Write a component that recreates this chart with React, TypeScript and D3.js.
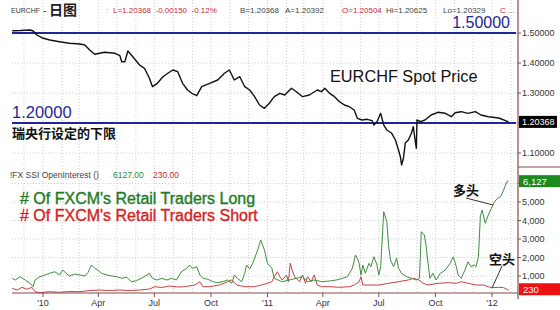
import React from 'react';
import * as d3 from 'd3';

type Pt = [string, number];

// EUR/CHF daily close (sampled)
const priceSeries: Pt[] = [
  ['2009-11-12', 1.5077], ['2009-11-25', 1.5083], ['2009-12-11', 1.51], ['2009-12-16', 1.5067],
  ['2009-12-22', 1.4933], ['2009-12-30', 1.4843], ['2010-01-12', 1.4767], ['2010-01-28', 1.471],
  ['2010-02-13', 1.4657], ['2010-03-02', 1.4633], ['2010-03-10', 1.46], ['2010-03-18', 1.4433],
  ['2010-03-26', 1.429], ['2010-04-03', 1.4323], ['2010-04-11', 1.4357], ['2010-04-28', 1.4323],
  ['2010-05-06', 1.4243], ['2010-05-09', 1.4043], ['2010-05-14', 1.4043], ['2010-05-19', 1.44],
  ['2010-05-27', 1.421], ['2010-06-07', 1.3933], ['2010-06-15', 1.3823], ['2010-06-23', 1.349],
  ['2010-06-28', 1.321], ['2010-07-06', 1.3323], ['2010-07-15', 1.3543], ['2010-07-23', 1.3657],
  ['2010-07-31', 1.3767], ['2010-08-08', 1.371], ['2010-08-16', 1.3323], ['2010-08-24', 1.31],
  ['2010-08-31', 1.299], ['2010-09-08', 1.291], ['2010-09-16', 1.321], ['2010-09-29', 1.3323],
  ['2010-10-12', 1.3433], ['2010-10-23', 1.3657], ['2010-10-31', 1.3767], ['2010-11-08', 1.3433],
  ['2010-11-17', 1.3543], ['2010-11-25', 1.321], ['2010-12-03', 1.31], ['2010-12-11', 1.2877],
  ['2010-12-19', 1.26], ['2010-12-27', 1.249], ['2011-01-04', 1.2657], ['2011-01-12', 1.2877],
  ['2011-01-21', 1.299], ['2011-01-29', 1.2933], ['2011-02-09', 1.3157], ['2011-02-17', 1.3043],
  ['2011-02-27', 1.2877], ['2011-03-10', 1.2933], ['2011-03-23', 1.31], ['2011-03-30', 1.3043],
  ['2011-04-04', 1.3157], ['2011-04-12', 1.299], ['2011-04-20', 1.2877], ['2011-04-28', 1.271],
  ['2011-05-06', 1.26], ['2011-05-14', 1.2543], ['2011-05-22', 1.2433], ['2011-05-27', 1.2157],
  ['2011-06-04', 1.21], ['2011-06-12', 1.2123], ['2011-06-20', 1.2077], ['2011-06-23', 1.1933],
  ['2011-06-28', 1.2043], ['2011-07-04', 1.2323], ['2011-07-09', 1.1933], ['2011-07-14', 1.1767],
  ['2011-07-22', 1.1657], ['2011-07-28', 1.1433], ['2011-08-02', 1.11], ['2011-08-05', 1.0877],
  ['2011-08-07', 1.06], ['2011-08-10', 1.0823], ['2011-08-13', 1.1333], ['2011-08-18', 1.1433],
  ['2011-08-23', 1.1657], ['2011-08-26', 1.1877], ['2011-08-29', 1.1433], ['2011-08-31', 1.1157],
  ['2011-09-01', 1.21], ['2011-09-07', 1.2043], ['2011-09-14', 1.21], ['2011-09-24', 1.2267],
  ['2011-10-05', 1.2357], ['2011-10-17', 1.2323], ['2011-10-27', 1.221], ['2011-11-02', 1.2343],
  ['2011-11-12', 1.2377], ['2011-11-23', 1.2323], ['2011-12-05', 1.2377], ['2011-12-14', 1.2267],
  ['2011-12-26', 1.221], ['2012-01-12', 1.2167], ['2012-01-28', 1.20368],
];

// FXCM SSI open interest: number of retail traders long
const longSeries: Pt[] = [
  ['2009-11-12', 876], ['2009-11-17', 784], ['2009-11-25', 962], ['2009-12-03', 784],
  ['2009-12-11', 605], ['2009-12-16', 422], ['2009-12-19', 784], ['2009-12-27', 962],
  ['2010-01-04', 1054], ['2010-01-12', 1146], ['2010-01-20', 1232], ['2010-01-28', 1054],
  ['2010-02-02', 1324], ['2010-02-09', 1108], ['2010-02-13', 1000], ['2010-02-22', 1108],
  ['2010-03-02', 1054], ['2010-03-10', 1000], ['2010-03-15', 1178], ['2010-03-21', 1594],
  ['2010-03-26', 1416], ['2010-03-31', 1324], ['2010-04-06', 1146], ['2010-04-15', 1054],
  ['2010-04-23', 1000], ['2010-05-01', 962], ['2010-05-09', 876], ['2010-05-17', 930],
  ['2010-05-25', 692], ['2010-06-02', 746], ['2010-06-10', 876], ['2010-06-19', 1054],
  ['2010-06-23', 1146], ['2010-06-28', 876], ['2010-07-05', 784], ['2010-07-13', 876],
  ['2010-07-21', 784], ['2010-07-29', 876], ['2010-08-06', 784], ['2010-08-14', 1232],
  ['2010-08-23', 1416], ['2010-08-27', 1594], ['2010-09-01', 1416], ['2010-09-08', 1503],
  ['2010-09-13', 1054], ['2010-09-18', 876], ['2010-09-26', 822], ['2010-10-04', 692],
  ['2010-10-12', 638], ['2010-10-20', 692], ['2010-10-28', 784], ['2010-11-04', 605],
  ['2010-11-08', 1054], ['2010-11-13', 876], ['2010-11-20', 692], ['2010-11-25', 1146],
  ['2010-11-28', 1594], ['2010-12-03', 1380], ['2010-12-08', 1686], ['2010-12-16', 2405],
  ['2010-12-21', 2946], ['2010-12-27', 2405], ['2011-01-01', 1686], ['2011-01-08', 1416],
  ['2011-01-12', 876], ['2011-01-24', 692], ['2011-02-06', 784], ['2011-02-17', 876],
  ['2011-02-27', 962], ['2011-03-07', 692], ['2011-03-18', 784], ['2011-03-30', 692],
  ['2011-04-12', 730], ['2011-04-23', 784], ['2011-05-03', 876], ['2011-05-11', 962],
  ['2011-05-19', 1416], ['2011-05-24', 2135], ['2011-05-27', 1957], ['2011-05-30', 1686],
  ['2011-06-02', 1054], ['2011-06-05', 1594], ['2011-06-09', 1146], ['2011-06-15', 1686],
  ['2011-06-18', 1503], ['2011-06-23', 2043], ['2011-06-28', 1594], ['2011-07-01', 1054],
  ['2011-07-04', 1503], ['2011-07-09', 4475], ['2011-07-14', 3935], ['2011-07-17', 2584],
  ['2011-07-20', 1865], ['2011-07-25', 1503], ['2011-07-30', 1957], ['2011-08-02', 1416],
  ['2011-08-07', 1146], ['2011-08-15', 962], ['2011-08-23', 876], ['2011-08-31', 784],
  ['2011-09-05', 876], ['2011-09-08', 3394], ['2011-09-13', 3216], ['2011-09-16', 2584],
  ['2011-09-19', 1686], ['2011-09-22', 876], ['2011-09-27', 1146], ['2011-10-02', 784],
  ['2011-10-09', 1146], ['2011-10-17', 1324], ['2011-10-25', 1686], ['2011-10-30', 2043],
  ['2011-11-04', 1503], ['2011-11-07', 1054], ['2011-11-12', 876], ['2011-11-18', 1324],
  ['2011-11-23', 1773], ['2011-11-28', 1503], ['2011-12-03', 1594], ['2011-12-06', 1503],
  ['2011-12-10', 2043], ['2011-12-13', 4205], ['2011-12-16', 4567], ['2011-12-21', 3848],
  ['2011-12-26', 4297], ['2011-12-31', 4659], ['2012-01-05', 5016], ['2012-01-10', 5200],
  ['2012-01-15', 5286], ['2012-01-20', 5648], ['2012-01-25', 6097], ['2012-01-28', 6127],
];

// FXCM SSI open interest: number of retail traders short
const shortSeries: Pt[] = [
  ['2009-11-12', 335], ['2009-11-20', 243], ['2009-11-28', 389], ['2009-12-06', 281],
  ['2009-12-14', 389], ['2009-12-19', 151], ['2009-12-27', 97], ['2010-01-12', 151],
  ['2010-01-28', 119], ['2010-02-13', 162], ['2010-03-02', 151], ['2010-03-18', 216],
  ['2010-04-03', 243], ['2010-04-19', 216], ['2010-05-06', 243], ['2010-05-22', 216],
  ['2010-06-07', 243], ['2010-06-23', 297], ['2010-07-02', 422], ['2010-07-13', 378],
  ['2010-07-26', 459], ['2010-08-08', 405], ['2010-08-19', 422], ['2010-09-05', 513],
  ['2010-09-13', 692], ['2010-09-18', 422], ['2010-09-29', 422], ['2010-10-15', 513],
  ['2010-10-28', 692], ['2010-11-04', 784], ['2010-11-12', 513], ['2010-11-25', 422],
  ['2010-12-11', 422], ['2010-12-22', 513], ['2011-01-01', 605], ['2011-01-08', 692],
  ['2011-01-12', 962], ['2011-01-17', 1232], ['2011-01-21', 962], ['2011-01-25', 784],
  ['2011-02-01', 1054], ['2011-02-04', 692], ['2011-02-07', 1686], ['2011-02-10', 1324],
  ['2011-02-14', 962], ['2011-02-22', 692], ['2011-02-27', 1054], ['2011-03-04', 605],
  ['2011-03-07', 962], ['2011-03-13', 692], ['2011-03-18', 1054], ['2011-03-23', 513],
  ['2011-03-30', 422], ['2011-04-12', 422], ['2011-04-28', 389], ['2011-05-14', 422],
  ['2011-05-22', 513], ['2011-05-30', 692], ['2011-06-02', 962], ['2011-06-05', 513],
  ['2011-06-15', 513], ['2011-07-01', 513], ['2011-07-17', 605], ['2011-08-02', 692],
  ['2011-08-18', 784], ['2011-08-26', 876], ['2011-09-04', 784], ['2011-09-11', 605],
  ['2011-09-19', 513], ['2011-10-05', 605], ['2011-10-22', 638], ['2011-11-04', 605],
  ['2011-11-12', 692], ['2011-11-23', 605], ['2011-12-06', 513], ['2011-12-18', 513],
  ['2011-12-26', 422], ['2011-12-31', 368], ['2012-01-12', 389], ['2012-01-20', 368],
  ['2012-01-28', 230],
];

const priceTicks = [1.1, 1.2, 1.3, 1.4, 1.5];
const oiTicks = [1000, 2000, 3000, 4000, 5000, 6000];
const floorLevels = [1.5, 1.2];
const lastPrice = 1.20368;
const lastLong = 6127;
const lastShort = 230;

const LATIN = '"Liberation Sans", Arial, sans-serif';
const CJK = '"Noto Sans CJK SC", sans-serif';
const GREEN = '#2f8a2f';
const RED = '#cc2a2a';
const NAVY = '#1f2596';
const AXIS = '#8a4848';
const GRID = '#cfcfcf';

export default function App() {
  const parse = d3.timeParse('%Y-%m-%d');
  const left = 12;
  const right = 518;

  const x = d3.scaleTime()
    .domain([new Date(2010, 0, 1), new Date(2012, 0, 1)])
    .range([43, 492]);
  const yP = d3.scaleLinear().domain([1.1, 1.5]).range([153, 33]);
  const yO = d3.scaleLinear().domain([0, 5000]).range([294.5, 202]);

  const lineP = d3.line<Pt>().x(d => x(parse(d[0])!)).y(d => yP(d[1]));
  const lineO = d3.line<Pt>().x(d => x(parse(d[0])!)).y(d => yO(d[1]));

  const months = d3.timeMonth.range(new Date(2009, 11, 1), new Date(2012, 1, 2));
  const quarters = d3.timeMonth.every(3)!.range(new Date(2010, 0, 1), new Date(2012, 0, 2));
  const fmtQ = (d: Date) => (d.getMonth() === 0 ? "'" + d3.timeFormat('%y')(d) : d3.timeFormat('%b')(d));
  const fmtP = d3.format('.5f');
  const fmtO = d3.format(',');

  // tick labels sitting under the last-value tags are left out
  const tagged = (y: number, tagY: number) => Math.abs(y - tagY) < 9;

  const topPanel: [number, number] = [0, 166];
  const botPanel: [number, number] = [168, 293];

  return (
    <svg width={560} height={310} viewBox="0 0 560 310"
      style={{ position: 'absolute', left: 0, top: 0, background: '#fff' }}>
      <rect x={0} y={0} width={560} height={310} fill="#fff" />

      {/* monthly grid */}
      {months.map((m, i) => (
        <g key={'mg' + i}>
          <line x1={x(m)} x2={x(m)} y1={topPanel[0]} y2={topPanel[1]} stroke={GRID} strokeDasharray="1,2" />
          <line x1={x(m)} x2={x(m)} y1={botPanel[0]} y2={botPanel[1]} stroke={GRID} strokeDasharray="1,2" />
        </g>
      ))}
      {priceTicks.map(t => (
        <line key={'pg' + t} x1={left} x2={right} y1={yP(t)} y2={yP(t)} stroke={GRID} strokeDasharray="1,2" />
      ))}
      {oiTicks.map(t => (
        <line key={'og' + t} x1={left} x2={right} y1={yO(t)} y2={yO(t)} stroke={GRID} strokeDasharray="1,2" />
      ))}

      {/* header */}
      <text x={11} y={13} fontFamily={LATIN} fontSize={8} fill="#333" textLength={29} lengthAdjust="spacingAndGlyphs">EURCHF</text>
      <text x={43} y={14} fontFamily={LATIN} fontSize={10} fill="#333">-</text>
      <text x={49} y={15} fontFamily={CJK} fontSize={14} fontWeight={700} fill="#222">日图</text>
      <g fontFamily={LATIN} fontSize={8}>
        <text x={106} y={13} fill="#888">:</text>
        <text x={113} y={13} fill={RED} xmlSpace="preserve">L=1.20368  -0.00150  -0.12%</text>
        <text x={240} y={13} fill="#444">B=1.20368</text>
        <text x={285} y={13} fill="#444">A=1.20392</text>
        <text x={342} y={13} fill={RED}>O=1.20504</text>
        <text x={386} y={13} fill="#444">Hi=1.20625</text>
        <text x={443} y={13} fill="#444">Lo=1.20329</text>
        <text x={500} y={13} fill={RED}>C ...</text>
      </g>

      {/* SNB floor and former level */}
      {floorLevels.map(l => (
        <line key={'fl' + l} x1={left} x2={right - 2} y1={yP(l)} y2={yP(l)} stroke={NAVY} strokeWidth={2} />
      ))}
      <text x={510} y={yP(1.5) - 5} textAnchor="end" fontFamily={LATIN} fontSize={16} fill={NAVY}>1.50000</text>
      <text x={12} y={yP(1.2) - 5} fontFamily={LATIN} fontSize={16.5} fill={NAVY}>1.20000</text>
      <text x={12} y={138} fontFamily={CJK} fontSize={13} fontWeight={700} fill="#111">瑞央行设定的下限</text>
      <text x={330} y={82} fontFamily={LATIN} fontSize={16.3} fill="#111">EURCHF Spot Price</text>

      {/* price */}
      <path d={lineP(priceSeries) ?? ''} fill="none" stroke="#111" strokeWidth={1.4} strokeLinejoin="round" />

      {/* open interest panel */}
      <g fontFamily={LATIN} fontSize={8.5}>
        <text x={10} y={178} fill="#444">!FX SSI OpenInterest ()</text>
        <text x={113} y={178} fill={GREEN}>{lastLong.toFixed(2)}</text>
        <text x={153} y={178} fill={RED}>{lastShort.toFixed(2)}</text>
      </g>
      <text x={20} y={204} fontFamily={LATIN} fontSize={16} fill="#237a23" stroke="#237a23" strokeWidth={0.35}># Of FXCM's Retail Traders Long</text>
      <text x={20} y={220.5} fontFamily={LATIN} fontSize={16} fill="#d42222" stroke="#d42222" strokeWidth={0.35}># Of FXCM's Retail Traders Short</text>

      <path d={lineO(shortSeries) ?? ''} fill="none" stroke="#c84040" strokeWidth={1} strokeLinejoin="round" />
      <path d={lineO(longSeries) ?? ''} fill="none" stroke="#3e8e3e" strokeWidth={1} strokeLinejoin="round" />

      {/* annotations */}
      <text x={453} y={195} fontFamily={CJK} fontSize={13} fontWeight={700} fill="#111">多头</text>
      <line x1={466} y1={198} x2={493} y2={205} stroke="#333" strokeWidth={1} />
      <text x={489} y={264} fontFamily={CJK} fontSize={13} fontWeight={700} fill="#111">空头</text>
      <line x1={502} y1={266} x2={492} y2={288} stroke="#333" strokeWidth={1} />

      {/* x axis */}
      <line x1={left} x2={right} y1={293} y2={293} stroke={AXIS} strokeWidth={1.2} />
      {quarters.map((q, i) => (
        <g key={'q' + i}>
          <line x1={x(q)} x2={x(q)} y1={293} y2={297} stroke={AXIS} />
          <text x={x(q)} y={306} textAnchor="middle" fontFamily={LATIN} fontSize={9} fill="#333">{fmtQ(q)}</text>
        </g>
      ))}

      {/* right axis */}
      <line x1={right} x2={right} y1={0} y2={299} stroke={AXIS} strokeWidth={1.2} />
      <line x1={right} x2={560} y1={167} y2={167} stroke={AXIS} strokeWidth={1.2} />
      {priceTicks.map(t => (
        <g key={'pt' + t}>
          <line x1={right} x2={right + 3} y1={yP(t)} y2={yP(t)} stroke="#555" />
          {!tagged(yP(t), yP(lastPrice)) && (
            <text x={right + 4} y={yP(t) + 3} fontFamily={LATIN} fontSize={9} fill="#333">{fmtP(t)}</text>
          )}
        </g>
      ))}
      {oiTicks.map(t => (
        <g key={'ot' + t}>
          <line x1={right} x2={right + 3} y1={yO(t)} y2={yO(t)} stroke="#555" />
          {!tagged(yO(t), yO(lastLong)) && (
            <text x={right + 4} y={yO(t) + 3} fontFamily={LATIN} fontSize={9} fill="#333">{fmtO(t)}</text>
          )}
        </g>
      ))}

      {/* last value tags */}
      <rect x={right + 1} y={yP(lastPrice) - 6} width={38} height={12} fill="#000" />
      <text x={right + 4} y={yP(lastPrice) + 3.5} fontFamily={LATIN} fontSize={9} fill="#fff">{fmtP(lastPrice)}</text>
      <rect x={right + 1} y={yO(lastLong) - 6} width={42} height={12} fill="#1d8a1d" />
      <text x={right + 5} y={yO(lastLong) + 3.5} fontFamily={LATIN} fontSize={9.5} fill="#fff">{fmtO(lastLong)}</text>
      <rect x={right + 1} y={yO(lastShort) - 7} width={42} height={12} fill="#ee1111" />
      <text x={right + 5} y={yO(lastShort) + 2.5} fontFamily={LATIN} fontSize={9.5} fill="#fff">{fmtO(lastShort)}</text>
    </svg>
  );
}
